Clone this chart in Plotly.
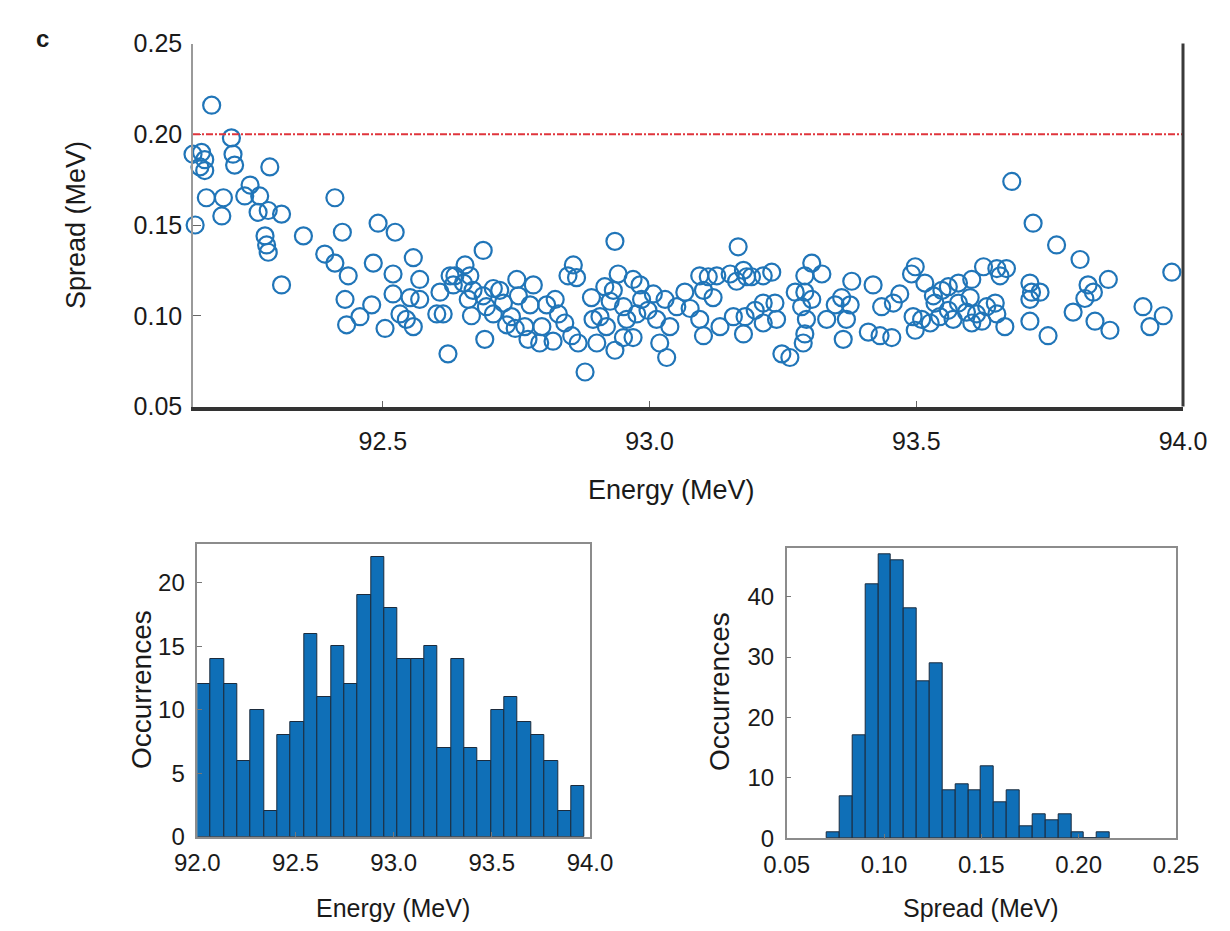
import plotly.graph_objects as go

# ---------------- data ----------------
energy = [
    92.179, 92.216, 92.144, 92.160, 92.166, 92.157, 92.166, 92.219, 92.222, 92.288,
    92.169, 92.201, 92.198, 92.148, 92.251, 92.241, 92.269, 92.266, 92.285, 92.310,
    92.279, 92.282, 92.285, 92.310, 92.351, 92.410, 92.424, 92.391, 92.410, 92.435,
    92.491, 92.523, 92.482, 92.519, 92.557, 92.429, 92.432, 92.457, 92.479, 92.504,
    92.519, 92.532, 92.551, 92.557, 92.569, 92.569, 92.601, 92.607, 92.622, 92.626,
    92.544,
    92.688, 92.635, 92.654, 92.663, 92.632, 92.651, 92.613, 92.660, 92.666, 92.688,
    92.694, 92.707, 92.719, 92.726, 92.751, 92.754, 92.782, 92.776, 92.741, 92.748,
    92.766, 92.772, 92.794, 92.798, 92.807, 92.823, 92.829, 92.819, 92.841, 92.854,
    92.857, 92.847, 92.863, 92.866, 92.891, 92.894, 92.901, 92.691, 92.879, 92.707,
    92.669, 92.732,
    92.935, 93.166, 92.916, 92.941, 92.932, 92.926, 92.907, 92.919, 92.935, 92.951,
    92.957, 92.969, 92.982, 92.985, 92.976, 92.969, 92.997, 93.007, 93.013, 93.019,
    93.032, 93.029, 93.038, 93.051, 93.066, 93.076, 93.094, 93.101, 93.110, 93.119,
    93.126, 93.094, 93.101, 93.132, 93.151, 93.163, 93.182, 93.157, 93.179, 93.176,
    92.951,
    93.191, 93.213, 93.229, 93.176, 93.198, 93.213, 93.235, 93.238, 93.213, 93.304,
    93.323, 93.291, 93.273, 93.291, 93.304, 93.285, 93.294, 93.291, 93.288, 93.248,
    93.263, 93.332, 93.348, 93.360, 93.379, 93.376, 93.369, 93.363, 93.419, 93.435,
    93.410, 93.432, 93.454, 93.469,
    93.679, 93.719, 93.498, 93.491, 93.516, 93.457, 93.532, 93.548, 93.560, 93.579,
    93.604, 93.626, 93.651, 93.669, 93.657, 93.601, 93.579, 93.560, 93.544, 93.494,
    93.510, 93.498, 93.526, 93.569, 93.594, 93.613, 93.632, 93.648, 93.651, 93.623,
    93.604, 93.666, 93.713, 93.716, 93.713, 93.713, 93.535,
    93.763, 93.807, 93.860, 93.822, 93.832, 93.816, 93.794, 93.835, 93.863, 93.747,
    93.732, 93.925, 93.963, 93.938, 93.979,
]
spread = [
    0.216, 0.198, 0.189, 0.190, 0.186, 0.182, 0.180, 0.189, 0.183, 0.182,
    0.165, 0.165, 0.155, 0.150, 0.172, 0.166, 0.166, 0.157, 0.158, 0.156,
    0.144, 0.139, 0.135, 0.117, 0.144, 0.165, 0.146, 0.134, 0.129, 0.122,
    0.151, 0.146, 0.129, 0.123, 0.132, 0.109, 0.095, 0.0995, 0.106, 0.093,
    0.112, 0.101, 0.110, 0.094, 0.120, 0.109, 0.101, 0.113, 0.079, 0.122,
    0.098,
    0.136, 0.122, 0.128, 0.122, 0.117, 0.118, 0.101, 0.109, 0.100, 0.111,
    0.105, 0.101, 0.114, 0.107, 0.120, 0.111, 0.117, 0.106, 0.0995, 0.093,
    0.094, 0.087, 0.085, 0.094, 0.106, 0.109, 0.101, 0.086, 0.096, 0.089,
    0.128, 0.122, 0.121, 0.085, 0.110, 0.098, 0.085, 0.087, 0.069, 0.115,
    0.114, 0.095,
    0.141, 0.138, 0.116, 0.123, 0.114, 0.108, 0.0995, 0.094, 0.081, 0.105,
    0.098, 0.120, 0.117, 0.109, 0.101, 0.088, 0.103, 0.112, 0.098, 0.085,
    0.077, 0.109, 0.094, 0.105, 0.113, 0.104, 0.122, 0.114, 0.1215, 0.110,
    0.122, 0.098, 0.089, 0.094, 0.123, 0.119, 0.1215, 0.0995, 0.0995, 0.090,
    0.088,
    0.1215, 0.122, 0.124, 0.125, 0.103, 0.107, 0.107, 0.098, 0.096, 0.129,
    0.123, 0.122, 0.113, 0.113, 0.109, 0.105, 0.098, 0.090, 0.085, 0.079,
    0.077, 0.098, 0.106, 0.110, 0.119, 0.106, 0.098, 0.087, 0.117, 0.105,
    0.091, 0.089, 0.088, 0.112,
    0.174, 0.151, 0.127, 0.123, 0.118, 0.107, 0.111, 0.114, 0.116, 0.118,
    0.120, 0.127, 0.126, 0.126, 0.122, 0.110, 0.107, 0.103, 0.0995, 0.0995,
    0.098, 0.092, 0.096, 0.098, 0.102, 0.101, 0.105, 0.107, 0.101, 0.097,
    0.096, 0.094, 0.118, 0.113, 0.109, 0.097, 0.107,
    0.139, 0.131, 0.120, 0.117, 0.113, 0.1095, 0.102, 0.097, 0.092, 0.089,
    0.113, 0.105, 0.100, 0.094, 0.124,
]
spread_limit = 0.20

energy_hist_counts = [12, 14, 12, 6, 10, 2, 8, 9, 16, 11, 15, 12, 19, 22, 18,
                      14, 14, 15, 7, 14, 7, 6, 10, 11, 9, 8, 6, 2, 4]
energy_hist_start = 92.0
energy_hist_width = 0.068

spread_hist_counts = [1, 7, 17, 42, 47, 46, 38, 26, 29, 8, 9, 8, 12, 6, 8,
                      2, 4, 3, 4, 1, 0, 1]
spread_hist_start = 0.0706
spread_hist_width = 0.00661

energy_ticks_top = [92.5, 93.0, 93.5, 94.0]
spread_ticks_top = [0.05, 0.10, 0.15, 0.20, 0.25]
energy_ticks_hist = [92.0, 92.5, 93.0, 93.5, 94.0]
spread_ticks_hist = [0.05, 0.10, 0.15, 0.20, 0.25]

# ---------------- figure ----------------
W, H = 1230, 931
FONT = "Liberation Sans, Arial, sans-serif"
BLUE = "#0f6fb7"
TXT = "#1a1a1a"


def fx(p):
    return p / W


def fy(p):
    return 1 - p / H


e_centers = [energy_hist_start + (i + 0.5) * energy_hist_width for i in range(len(energy_hist_counts))]
s_centers = [spread_hist_start + (i + 0.5) * spread_hist_width for i in range(len(spread_hist_counts))]

fig = go.Figure()

fig.add_trace(go.Scatter(
    x=energy, y=spread, mode="markers", xaxis="x", yaxis="y",
    marker=dict(symbol="circle-open", size=17, color="#2075b8", line=dict(width=2.2)),
    cliponaxis=False, showlegend=False, hoverinfo="x+y"))

fig.add_trace(go.Bar(
    x=e_centers, y=energy_hist_counts, width=energy_hist_width, xaxis="x2", yaxis="y2",
    marker=dict(color=BLUE, line=dict(color="#1b2b3d", width=1)), showlegend=False))

fig.add_trace(go.Bar(
    x=s_centers, y=spread_hist_counts, width=spread_hist_width, xaxis="x3", yaxis="y3",
    marker=dict(color=BLUE, line=dict(color="#1b2b3d", width=1)), showlegend=False))

top_tick_font = dict(family=FONT, size=25, color=TXT)
hist_tick_font = dict(family=FONT, size=24, color=TXT)

common = dict(showgrid=False, zeroline=False, automargin=False)

fig.update_layout(
    width=W, height=H,
    margin=dict(l=0, r=0, t=0, b=0, autoexpand=False),
    paper_bgcolor="white", plot_bgcolor="white",
    font=dict(family=FONT, color=TXT),
    bargap=0,
    xaxis=dict(
        domain=[fx(193), fx(1183)], range=[92.144, 94.0], anchor="y",
        showline=True, linecolor="#333333", linewidth=4,
        ticks="inside", ticklen=6, tickcolor="#666666", tickwidth=1,
        tickvals=energy_ticks_top, tickformat=".1f", tickfont=top_tick_font,
        ticklabelstandoff=9, **common),
    yaxis=dict(
        domain=[fy(406.5), fy(43.5)], range=[0.05, 0.25], anchor="x",
        showline=True, linecolor="#9a9a9a", linewidth=1.5,
        ticks="inside", ticklen=8, tickcolor="#666666", tickwidth=1,
        tickvals=spread_ticks_top, tickformat=".2f", tickfont=top_tick_font,
        ticklabelstandoff=4, **common),
    xaxis2=dict(
        domain=[fx(197.3), fx(590)], range=[92.0, 94.0], anchor="y2",
        showline=True, mirror=True, linecolor="#8c8c8c", linewidth=1.5,
        ticks="inside", ticklen=5, tickcolor="#777777",
        tickvals=energy_ticks_hist, tickformat=".1f", tickfont=hist_tick_font,
        ticklabelstandoff=4, **common),
    yaxis2=dict(
        domain=[fy(836.7), fy(544)], range=[0, 23.05], anchor="x2",
        showline=True, mirror=True, linecolor="#8c8c8c", linewidth=1.5,
        ticks="inside", ticklen=5, tickcolor="#777777",
        tickvals=[0, 5, 10, 15, 20], tickfont=hist_tick_font, ticklabelstandoff=6,
        **common),
    xaxis3=dict(
        domain=[fx(786.7), fx(1176)], range=[0.05, 0.25], anchor="y3",
        showline=True, mirror=True, linecolor="#8c8c8c", linewidth=1.5,
        ticks="inside", ticklen=5, tickcolor="#777777",
        tickvals=spread_ticks_hist, tickformat=".2f", tickfont=hist_tick_font,
        ticklabelstandoff=4, **common),
    yaxis3=dict(
        domain=[fy(838.3), fy(548.3)], range=[0, 48], anchor="x3",
        showline=True, mirror=True, linecolor="#8c8c8c", linewidth=1.5,
        ticks="inside", ticklen=5, tickcolor="#777777",
        tickvals=[0, 10, 20, 30, 40], tickfont=hist_tick_font, ticklabelstandoff=6,
        **common),
)

# threshold line
fig.add_shape(type="line", xref="x domain", x0=0, x1=1, yref="y",
              y0=spread_limit, y1=spread_limit,
              line=dict(color="#e0353c", width=2, dash="7px,2px,2px,2px"))
# right frame line of the scatter panel
fig.add_shape(type="line", xref="x domain", x0=1, x1=1, yref="y domain", y0=0, y1=1,
              line=dict(color="#3a3a3a", width=3))


def label(text, x, y, size, angle=0, bold=False):
    fig.add_annotation(text=f"<b>{text}</b>" if bold else text,
                       xref="paper", yref="paper", x=fx(x), y=fy(y),
                       showarrow=False, textangle=angle,
                       font=dict(family=FONT, size=size, color=TXT),
                       xanchor="center", yanchor="middle")


label("Spread (MeV)", 76, 225, 27, angle=-90)
label("Energy (MeV)", 671, 490, 27)
label("Occurrences", 141, 690, 28, angle=-90)
label("Occurrences", 719, 692, 28, angle=-90)
label("Energy (MeV)", 393, 908, 25)
label("Spread (MeV)", 981, 908, 25)
label("c", 42, 38, 24, bold=True)

fig.write_html("out.html")
